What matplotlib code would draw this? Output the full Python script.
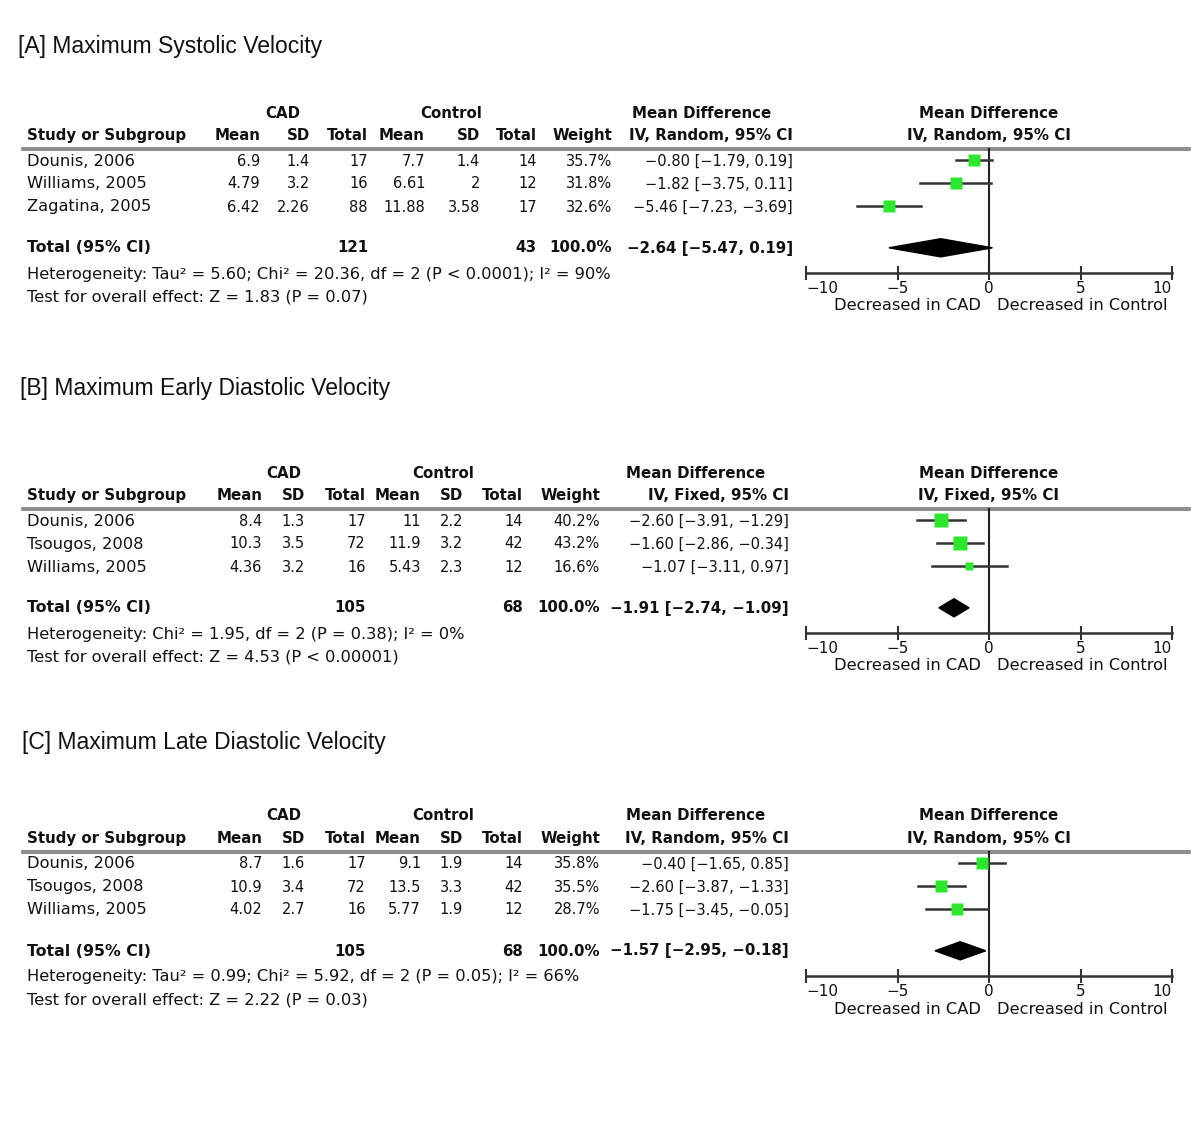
import matplotlib
matplotlib.use("Agg")
import matplotlib.pyplot as plt
from matplotlib.patches import Polygon

# ---- data --------------------------------------------------------------
titles = ["[A] Maximum Systolic Velocity",
          "[B] Maximum Early Diastolic Velocity",
          "[C] Maximum Late Diastolic Velocity"]
methods = ["IV, Random, 95% CI", "IV, Fixed, 95% CI", "IV, Random, 95% CI"]

studies_a = ["Dounis, 2006", "Williams, 2005", "Zagatina, 2005"]
cad_mean_a = [6.9, 4.79, 6.42]
cad_sd_a = [1.4, 3.2, 2.26]
cad_n_a = [17, 16, 88]
ctl_mean_a = [7.7, 6.61, 11.88]
ctl_sd_a = [1.4, 2, 3.58]
ctl_n_a = [14, 12, 17]
weight_a = [35.7, 31.8, 32.6]
md_a = [-0.80, -1.82, -5.46]
lo_a = [-1.79, -3.75, -7.23]
hi_a = [0.19, 0.11, -3.69]
total_a = [121, 43, -2.64, -5.47, 0.19]
het_a = "Heterogeneity: Tau\u00b2 = 5.60; Chi\u00b2 = 20.36, df = 2 (P < 0.0001); I\u00b2 = 90%"
test_a = "Test for overall effect: Z = 1.83 (P = 0.07)"

studies_b = ["Dounis, 2006", "Tsougos, 2008", "Williams, 2005"]
cad_mean_b = [8.4, 10.3, 4.36]
cad_sd_b = [1.3, 3.5, 3.2]
cad_n_b = [17, 72, 16]
ctl_mean_b = [11, 11.9, 5.43]
ctl_sd_b = [2.2, 3.2, 2.3]
ctl_n_b = [14, 42, 12]
weight_b = [40.2, 43.2, 16.6]
md_b = [-2.60, -1.60, -1.07]
lo_b = [-3.91, -2.86, -3.11]
hi_b = [-1.29, -0.34, 0.97]
total_b = [105, 68, -1.91, -2.74, -1.09]
het_b = "Heterogeneity: Chi\u00b2 = 1.95, df = 2 (P = 0.38); I\u00b2 = 0%"
test_b = "Test for overall effect: Z = 4.53 (P < 0.00001)"

studies_c = ["Dounis, 2006", "Tsougos, 2008", "Williams, 2005"]
cad_mean_c = [8.7, 10.9, 4.02]
cad_sd_c = [1.6, 3.4, 2.7]
cad_n_c = [17, 72, 16]
ctl_mean_c = [9.1, 13.5, 5.77]
ctl_sd_c = [1.9, 3.3, 1.9]
ctl_n_c = [14, 42, 12]
weight_c = [35.8, 35.5, 28.7]
md_c = [-0.40, -2.60, -1.75]
lo_c = [-1.65, -3.87, -3.45]
hi_c = [0.85, -1.33, -0.05]
total_c = [105, 68, -1.57, -2.95, -0.18]
het_c = "Heterogeneity: Tau\u00b2 = 0.99; Chi\u00b2 = 5.92, df = 2 (P = 0.05); I\u00b2 = 66%"
test_c = "Test for overall effect: Z = 2.22 (P = 0.03)"

xticks = [-10, -5, 0, 5, 10]
favours = ["Decreased in CAD", "Decreased in Control"]

# ---- layout (pixels) ----------------------------------------------------
W, H = 1200, 1121
FONT = "DejaVu Sans"
FS = 10.5      # numbers
FS_TXT = 11.7  # words
FS_B = 10.8    # bold header
GREEN = "#2ee62e"
DARK = "#111111"

fig = plt.figure(figsize=(W / 100, H / 100), dpi=100)
canvas = fig.add_axes([0, 0, 1, 1])
canvas.set_xlim(0, W)
canvas.set_ylim(H, 0)
canvas.axis("off")


def fmt(v):
    return ("%g" % v).replace("-", "\u2212")


def ci_text(m, l, h):
    return ("%.2f [%.2f, %.2f]" % (m, l, h)).replace("-", "\u2212")


def txt(x, y, s, ha="right", bold=False, size=None):
    if size is None:
        size = FS_B if bold else FS
    canvas.text(x, y, s, ha=ha, va="center", fontsize=size, family=FONT,
                fontweight="bold" if bold else "normal", color=DARK)


def panel(title, title_y, hy, cols, grp, method, studies, cm, cs, cn, km, ks, kn,
          wt, md, lo, hi, total, het, test):
    canvas.text(title_y[0], title_y[1], title, ha="left", va="center",
                fontsize=16.5, family="Liberation Sans", color="#111111")
    # header
    txt(grp[0], hy, "CAD", ha="center", bold=True)
    txt(grp[1], hy, "Control", ha="center", bold=True)
    txt(grp[2], hy, "Mean Difference", ha="center", bold=True)
    txt(989, hy, "Mean Difference", ha="center", bold=True)
    h2 = hy + 22.5
    txt(27, h2, "Study or Subgroup", ha="left", bold=True)
    for x, s in zip(cols, ["Mean", "SD", "Total", "Mean", "SD", "Total", "Weight", method]):
        txt(x, h2, s, bold=True)
    txt(989, h2, method, ha="center", bold=True)
    line_y = hy + 34.5
    canvas.plot([22, 1190], [line_y, line_y], color="#777777", lw=1.2)
    canvas.plot([22, 1190], [line_y + 2.5, line_y + 2.5], color="#777777", lw=1.2)

    rows = [hy + 48 + 23 * i for i in range(len(studies))]
    for i, y in enumerate(rows):
        txt(27, y, studies[i], ha="left", size=FS_TXT)
        vals = [fmt(cm[i]), fmt(cs[i]), str(cn[i]), fmt(km[i]), fmt(ks[i]),
                str(kn[i]), "%.1f%%" % wt[i], ci_text(md[i], lo[i], hi[i])]
        for x, s in zip(cols, vals):
            txt(x, y, s)
    ty = hy + 135
    txt(27, ty, "Total (95% CI)", ha="left", bold=True, size=11.3)
    txt(cols[2], ty, str(total[0]), bold=True)
    txt(cols[5], ty, str(total[1]), bold=True)
    txt(cols[6], ty, "100.0%", bold=True)
    txt(cols[7], ty, ci_text(total[2], total[3], total[4]), bold=True)
    txt(27, hy + 161, het, ha="left", size=FS_TXT)
    txt(27, hy + 184, test, ha="left", size=FS_TXT)

    # forest plot axes, y in pixel units
    axis_y = hy + 160
    x0, x1 = 806, 1172
    ax = fig.add_axes([x0 / W, 1 - axis_y / H, (x1 - x0) / W, (axis_y - line_y) / H])
    ax.set_xlim(-10, 10)
    ax.set_ylim(axis_y, line_y + 1)
    ax.patch.set_alpha(0)
    for s in ["top", "left", "right"]:
        ax.spines[s].set_visible(False)
    ax.spines["bottom"].set_linewidth(1.8)
    ax.spines["bottom"].set_color("#333333")
    ax.set_yticks([])
    ax.set_xticks(xticks)
    ax.set_xticklabels([fmt(t) for t in xticks], fontsize=11, family=FONT, color=DARK)
    labs = ax.get_xticklabels()
    labs[0].set_ha("left")
    labs[-1].set_ha("right")
    ax.tick_params(axis="x", direction="inout", length=10, width=1.5,
                   color="#333333", pad=1)
    ax.axvline(0, color="#222222", lw=1.5)
    for i, y in enumerate(rows):
        ax.plot([lo[i], hi[i]], [y, y], color="#333333", lw=1.8, zorder=2)
        ax.plot(md[i], y, marker="s", ms=(wt[i] ** 0.5) * 1.55, color=GREEN,
                mec="none", zorder=3)
    dh = 9
    ax.add_patch(Polygon([[total[3], ty], [total[2], ty - dh], [total[4], ty],
                          [total[2], ty + dh]], closed=True, color="black", zorder=3))
    lab_y = axis_y + 33
    canvas.text(981, lab_y, favours[0], ha="right", va="center", fontsize=FS_TXT,
                family=FONT, color=DARK)
    canvas.text(997, lab_y, favours[1], ha="left", va="center", fontsize=FS_TXT,
                family=FONT, color=DARK)


cols_a = [260, 310, 368, 425, 480, 537, 612, 793]
cols_bc = [262, 305, 366, 421, 463, 523, 600, 789]

panel(titles[0], (18, 46), 113, cols_a, (283, 451, 702), methods[0], studies_a,
      cad_mean_a, cad_sd_a, cad_n_a, ctl_mean_a, ctl_sd_a, ctl_n_a,
      weight_a, md_a, lo_a, hi_a, total_a, het_a, test_a)
panel(titles[1], (20, 389), 473, cols_bc, (284, 443, 696), methods[1], studies_b,
      cad_mean_b, cad_sd_b, cad_n_b, ctl_mean_b, ctl_sd_b, ctl_n_b,
      weight_b, md_b, lo_b, hi_b, total_b, het_b, test_b)
panel(titles[2], (22, 742), 816, cols_bc, (284, 443, 696), methods[2], studies_c,
      cad_mean_c, cad_sd_c, cad_n_c, ctl_mean_c, ctl_sd_c, ctl_n_c,
      weight_c, md_c, lo_c, hi_c, total_c, het_c, test_c)

fig.savefig("out.png", dpi=100, facecolor="white")
